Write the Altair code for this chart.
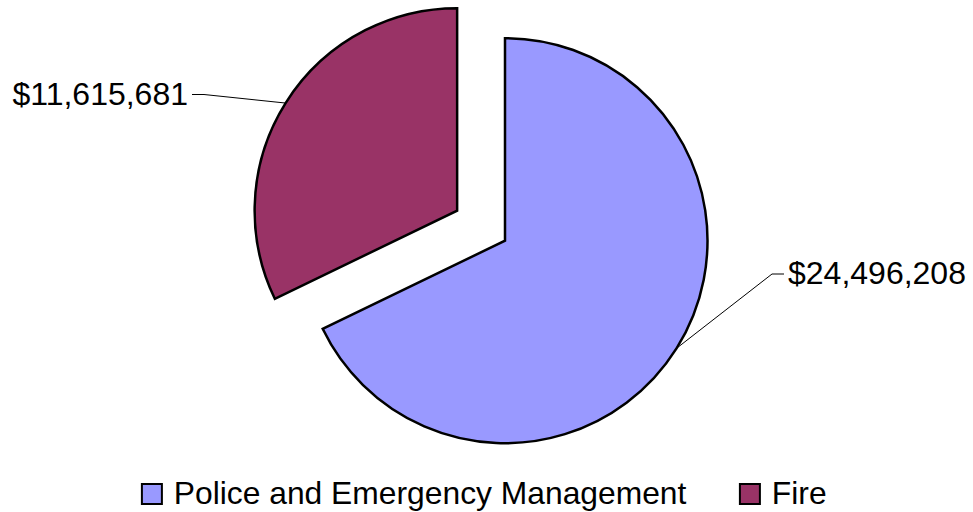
import altair as alt
import pandas as pd

# Budget split by department
categories = ["Police and Emergency Management", "Fire"]
amounts = [24496208, 11615681]
colors = ["#9999FF", "#993366"]

df = pd.DataFrame({"category": categories, "amount": amounts})

# Pie geometry (pixels)
CX, CY = 505, 240.7
RADIUS = 202.5
EXPLODE = 56.5          # Fire slice pulled out along its mid angle
FONT = "Liberation Sans"
LABEL_SIZE = 32

# Label anchor points: police label to the right, fire label to the left
label_x = "datum.category == 'Fire' ? 188 : 788"
label_y = "datum.category == 'Fire' ? 94.5 : 274"

base = (
    alt.Chart(df)
    .transform_joinaggregate(total="sum(amount)")
    .transform_window(cum="sum(amount)", frame=[None, 0])
    .transform_calculate(
        t0="2 * PI * (datum.cum - datum.amount) / datum.total",
        t1="2 * PI * datum.cum / datum.total",
    )
    .transform_calculate(mid="(datum.t0 + datum.t1) / 2")
    .transform_calculate(ex=f"datum.category == 'Fire' ? {EXPLODE} : 0")
    .transform_calculate(
        cx=f"{CX} + datum.ex * sin(datum.mid)",
        cy=f"{CY} - datum.ex * cos(datum.mid)",
        side="sin(datum.mid) > 0 ? 1 : -1",
        lx=label_x,
        ly=label_y,
        label="format(datum.amount, '$,.0f')",
    )
    .transform_calculate(
        edge_x=f"datum.cx + {RADIUS} * sin(datum.mid)",
        edge_y=f"datum.cy - {RADIUS} * cos(datum.mid)",
        elbow_x="datum.lx - datum.side * 16",
        seg_x="datum.lx - datum.side * 4",
    )
)

px = lambda f: alt.X(f"{f}:Q", scale=None, axis=None)
py = lambda f: alt.Y(f"{f}:Q", scale=None, axis=None)

slices = base.mark_arc(
    outerRadius=RADIUS, stroke="black", strokeWidth=2.5, strokeJoin="miter"
).encode(
    theta=alt.Theta("t0:Q", scale=None),
    theta2=alt.Theta2("t1:Q"),
    x=px("cx"),
    y=py("cy"),
    color=alt.Color(
        "category:N",
        scale=alt.Scale(domain=categories, range=colors),
        legend=alt.Legend(
            orient="none",
            legendX=136,
            legendY=478,
            direction="horizontal",
            columns=2,
            title=None,
            padding=0,
            symbolType="square",
            symbolSize=400,
            symbolStrokeColor="black",
            symbolStrokeWidth=2,
            labelFont=FONT,
            labelFontSize=31.8,
            labelColor="black",
            labelLimit=0,
            labelOffset=6,
            columnPadding=47,
        ),
    ),
)

leader = base.mark_rule(color="black", strokeWidth=1).encode(
    x=px("edge_x"), y=py("edge_y"), x2=alt.X2("elbow_x:Q"), y2=alt.Y2("ly:Q")
)

tail = base.mark_rule(color="black", strokeWidth=1).encode(
    x=px("elbow_x"), x2=alt.X2("seg_x:Q"), y=py("ly")
)

right_labels = base.transform_filter("datum.side > 0").mark_text(
    font=FONT, fontSize=LABEL_SIZE, align="left", baseline="middle", color="black"
).encode(x=px("lx"), y=py("ly"), text="label:N")

left_labels = base.transform_filter("datum.side < 0").mark_text(
    font=FONT, fontSize=LABEL_SIZE, align="right", baseline="middle", color="black"
).encode(x=px("lx"), y=py("ly"), text="label:N")

chart = (
    alt.layer(slices, leader, tail, right_labels, left_labels)
    .properties(width=973, height=512, autosize="none", padding=0, background="white")
    .configure_view(stroke=None)
)

chart.save("out.html", embed_options={"renderer": "svg", "actions": False})
